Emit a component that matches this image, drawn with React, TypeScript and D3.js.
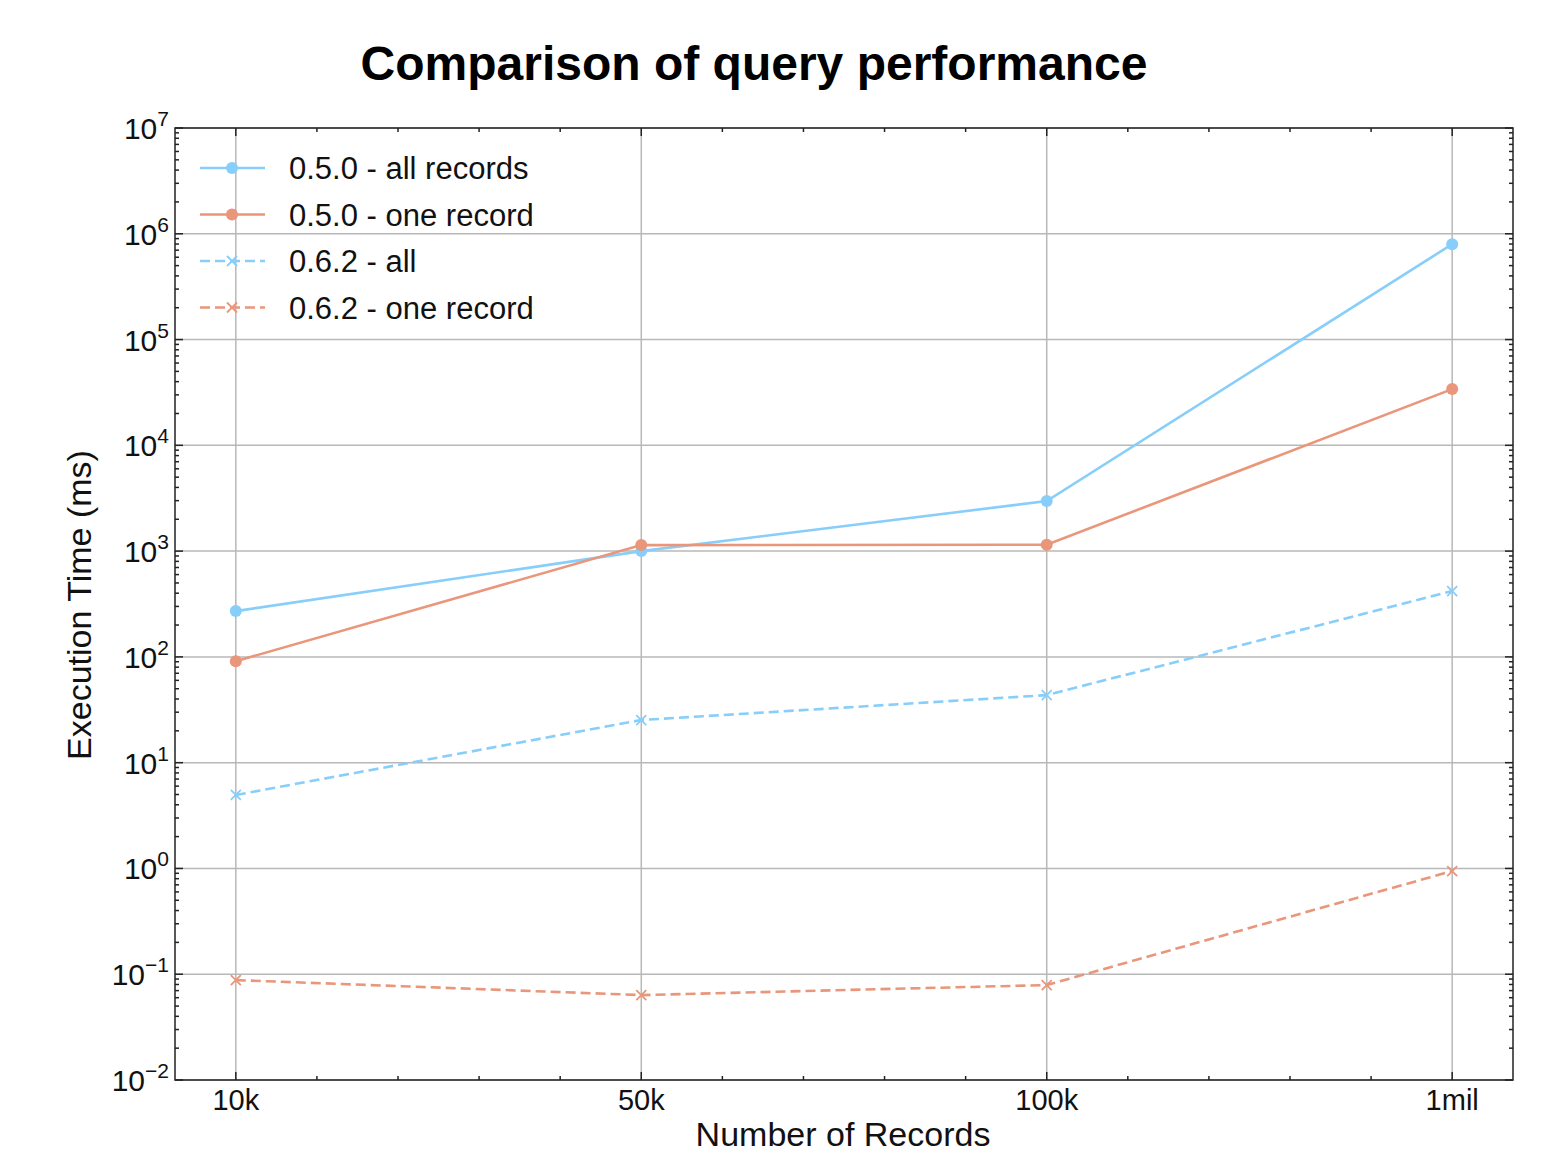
import React, { useRef, useEffect } from 'react';
import * as d3 from 'd3';

// records per run, one per x position
const categories = ['10k', '50k', '100k', '1mil'];

// execution times in ms
const allRecords050 = [271, 1000, 2970, 798000];
const oneRecord050 = [91, 1140, 1150, 34000];
const all062 = [4.95, 25.3, 43.5, 419];
const oneRecord062 = [0.088, 0.0635, 0.079, 0.945];

const seriesNames = ['0.5.0 - all records', '0.5.0 - one record', '0.6.2 - all', '0.6.2 - one record'];
const yExponents = [-2, -1, 0, 1, 2, 3, 4, 5, 6, 7];

const BLUE = '#87cefa';
const SALMON = '#e9967a';
const FONT = '"Liberation Sans", Arial, Helvetica, sans-serif';

const W = 1557;
const H = 1152;
const margin = { left: 175, right: 44, top: 128, bottom: 72 };

const App = () => {
  const ref = useRef(null);

  useEffect(() => {
    const svg = d3.select(ref.current);
    svg.selectAll('*').remove();

    const innerW = W - margin.left - margin.right;
    const innerH = H - margin.top - margin.bottom;

    const x = d3.scaleLinear().domain([-0.15, categories.length - 1 + 0.15]).range([0, innerW]);
    const y = d3.scaleLog().domain([1e-2, 1e7]).range([innerH, 0]);

    const g = svg.append('g').attr('transform', `translate(${margin.left},${margin.top})`);

    // title
    svg
      .append('text')
      .attr('x', 754)
      .attr('y', 80)
      .attr('text-anchor', 'middle')
      .style('font-family', FONT)
      .style('font-weight', 'bold')
      .style('font-size', '48px')
      .text('Comparison of query performance');

    // grid
    const grid = g.append('g').attr('stroke', '#b8b8b8').attr('stroke-width', 1.5);
    categories.forEach((c, i) => {
      grid.append('line').attr('x1', x(i)).attr('x2', x(i)).attr('y1', 0).attr('y2', innerH);
    });
    yExponents.forEach(e => {
      grid.append('line').attr('x1', 0).attr('x2', innerW).attr('y1', y(Math.pow(10, e))).attr('y2', y(Math.pow(10, e)));
    });

    // ticks, all pointing inward
    const ticks = g.append('g').attr('stroke', '#222').attr('stroke-width', 1.5);
    const minorX = d3.range(0, categories.length - 1 + 0.01, 0.2).filter(v => Math.abs(v - Math.round(v)) > 0.01);
    minorX.forEach(v => {
      ticks.append('line').attr('x1', x(v)).attr('x2', x(v)).attr('y1', innerH).attr('y2', innerH - 4);
      ticks.append('line').attr('x1', x(v)).attr('x2', x(v)).attr('y1', 0).attr('y2', 4);
    });
    categories.forEach((c, i) => {
      ticks.append('line').attr('x1', x(i)).attr('x2', x(i)).attr('y1', innerH).attr('y2', innerH - 8);
      ticks.append('line').attr('x1', x(i)).attr('x2', x(i)).attr('y1', 0).attr('y2', 8);
    });
    yExponents.forEach(e => {
      const yy = y(Math.pow(10, e));
      ticks.append('line').attr('x1', 0).attr('x2', 8).attr('y1', yy).attr('y2', yy);
      ticks.append('line').attr('x1', innerW).attr('x2', innerW - 8).attr('y1', yy).attr('y2', yy);
      if (e < 7) {
        for (let m = 2; m <= 9; m++) {
          const ym = y(m * Math.pow(10, e));
          ticks.append('line').attr('x1', 0).attr('x2', 4).attr('y1', ym).attr('y2', ym);
          ticks.append('line').attr('x1', innerW).attr('x2', innerW - 4).attr('y1', ym).attr('y2', ym);
        }
      }
    });

    // frame
    g.append('rect')
      .attr('width', innerW)
      .attr('height', innerH)
      .attr('fill', 'none')
      .attr('stroke', '#222')
      .attr('stroke-width', 1.5);

    // x tick labels
    categories.forEach((c, i) => {
      g.append('text')
        .attr('x', x(i))
        .attr('y', innerH + 30)
        .attr('text-anchor', 'middle')
        .style('font-family', FONT)
        .style('font-size', '29px')
        .attr('fill', '#111')
        .text(c);
    });

    // y tick labels 10^n
    yExponents.forEach(e => {
      const t = g
        .append('text')
        .attr('x', -6)
        .attr('y', y(Math.pow(10, e)) + 11)
        .attr('text-anchor', 'end')
        .style('font-family', FONT)
        .style('font-size', '30px')
        .attr('fill', '#111');
      t.append('tspan').text('10');
      t.append('tspan')
        .attr('dy', -13)
        .style('font-size', '21px')
        .text(e < 0 ? '\u2212' + Math.abs(e) : String(e));
    });

    // axis labels
    svg
      .append('text')
      .attr('x', 843)
      .attr('y', 1146)
      .attr('text-anchor', 'middle')
      .style('font-family', FONT)
      .style('font-size', '34px')
      .attr('fill', '#111')
      .text('Number of Records');

    svg
      .append('text')
      .attr('transform', 'translate(91,605) rotate(-90)')
      .attr('text-anchor', 'middle')
      .style('font-family', FONT)
      .style('font-size', '34px')
      .attr('fill', '#111')
      .text('Execution Time (ms)');

    const series = [
      { name: seriesNames[0], values: allRecords050, color: BLUE, dashed: false, marker: 'circle' },
      { name: seriesNames[1], values: oneRecord050, color: SALMON, dashed: false, marker: 'circle' },
      { name: seriesNames[2], values: all062, color: BLUE, dashed: true, marker: 'x' },
      { name: seriesNames[3], values: oneRecord062, color: SALMON, dashed: true, marker: 'x' },
    ];

    const line = d3
      .line<number>()
      .x((d, i) => x(i))
      .y(d => y(d));

    const drawMarker = (sel, cx, cy, s) => {
      if (s.marker === 'circle') {
        sel.append('circle').attr('cx', cx).attr('cy', cy).attr('r', 6).attr('fill', s.color);
      } else {
        const r = 5;
        sel
          .append('path')
          .attr('d', `M${cx - r},${cy - r}L${cx + r},${cy + r}M${cx - r},${cy + r}L${cx + r},${cy - r}`)
          .attr('stroke', s.color)
          .attr('stroke-width', 1.8);
      }
    };

    series.forEach(s => {
      const sg = g.append('g');
      sg.append('path')
        .datum(s.values)
        .attr('d', line)
        .attr('fill', 'none')
        .attr('stroke', s.color)
        .attr('stroke-width', 2.6)
        .attr('stroke-dasharray', s.dashed ? '10,5' : null);
      s.values.forEach((v, i) => drawMarker(sg, x(i), y(v), s));
    });

    // legend
    const legend = g.append('g').attr('transform', 'translate(25,40)');
    series.forEach((s, i) => {
      const ly = i * 46.5;
      legend
        .append('line')
        .attr('x1', 0)
        .attr('x2', 65)
        .attr('y1', ly)
        .attr('y2', ly)
        .attr('stroke', s.color)
        .attr('stroke-width', 2.6)
        .attr('stroke-dasharray', s.dashed ? '10,5' : null);
      drawMarker(legend, 32, ly, s);
      legend
        .append('text')
        .attr('x', 89)
        .attr('y', ly + 11)
        .style('font-family', FONT)
        .style('font-size', '31px')
        .attr('fill', '#111')
        .text(s.name);
    });
  }, []);

  return (
    <svg
      ref={ref}
      width={W}
      height={H}
      style={{ position: 'absolute', top: 0, left: 0, display: 'block', background: '#fff' }}
    />
  );
};

export default App;
